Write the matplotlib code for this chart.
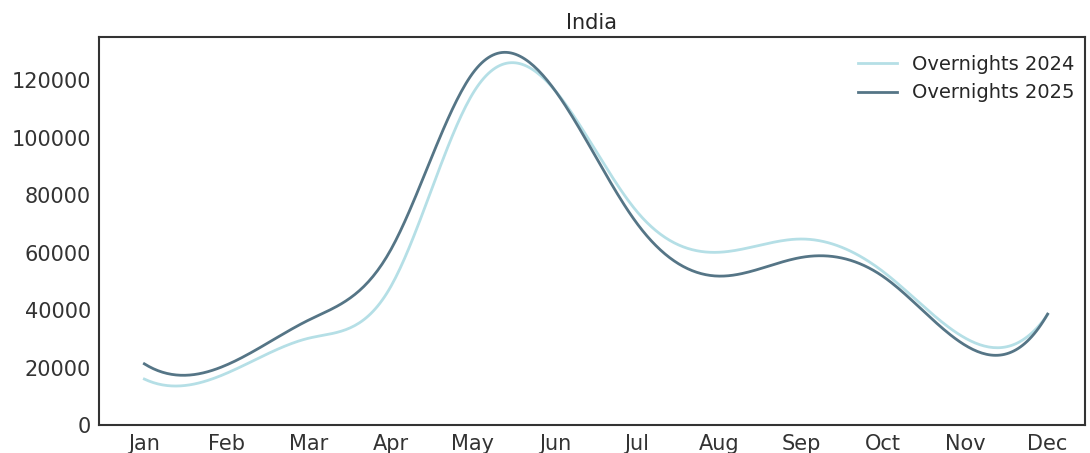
import numpy as np
import matplotlib
matplotlib.use("Agg")
import matplotlib.pyplot as plt

months = ["Jan", "Feb", "Mar", "Apr", "May", "Jun", "Jul", "Aug", "Sep", "Oct", "Nov", "Dec"]
overnights_2024 = [16100, 18100, 30300, 48200, 115400, 116500, 74300, 60200, 64800, 53400, 30300, 38500]
overnights_2025 = [21400, 21000, 36600, 61000, 122500, 116500, 70200, 51900, 58400, 51700, 27800, 38700]


def not_a_knot_spline(x, y, xs):
    x = np.asarray(x, float)
    y = np.asarray(y, float)
    n = len(x)
    h = np.diff(x)
    A = np.zeros((n, n))
    b = np.zeros(n)
    # not-a-knot conditions
    A[0, 0] = h[1]
    A[0, 1] = -(h[0] + h[1])
    A[0, 2] = h[0]
    A[-1, -3] = h[-1]
    A[-1, -2] = -(h[-2] + h[-1])
    A[-1, -1] = h[-2]
    for i in range(1, n - 1):
        A[i, i - 1] = h[i - 1]
        A[i, i] = 2 * (h[i - 1] + h[i])
        A[i, i + 1] = h[i]
        b[i] = 6 * ((y[i + 1] - y[i]) / h[i] - (y[i] - y[i - 1]) / h[i - 1])
    M = np.linalg.solve(A, b)
    idx = np.clip(np.searchsorted(x, xs) - 1, 0, n - 2)
    x0, x1 = x[idx], x[idx + 1]
    hh = x1 - x0
    t0 = x1 - xs
    t1 = xs - x0
    return (M[idx] * t0**3 / (6 * hh) + M[idx + 1] * t1**3 / (6 * hh)
            + (y[idx] / hh - M[idx] * hh / 6) * t0
            + (y[idx + 1] / hh - M[idx + 1] * hh / 6) * t1)


x = np.arange(len(months))
xs = np.linspace(x.min(), x.max(), 400)

fig = plt.figure(figsize=(10.9, 4.53), dpi=100)
ax = fig.add_axes([0.091, 0.061, 0.904, 0.857])

ax.plot(xs, not_a_knot_spline(x, overnights_2024, xs), color="#b5dfe6", lw=2, label="Overnights 2024")
ax.plot(xs, not_a_knot_spline(x, overnights_2025, xs), color="#557586", lw=2, label="Overnights 2025")

ax.set_xticks(x)
ax.set_xticklabels(months)
ax.set_ylim(0, 135000)
ax.set_xlim(-0.55, 11.45)
ax.set_yticks(np.arange(0, 120001, 20000))
ax.tick_params(length=0, labelsize=15, colors="#333333", pad=6)
for s in ax.spines.values():
    s.set_color("#333333")
    s.set_linewidth(1.5)
ax.set_title("India", fontsize=15, color="#262626")
ax.legend(loc="upper right", frameon=False, fontsize=14, labelcolor="#262626",
          bbox_to_anchor=(1.008, 1.0))

fig.savefig("out.png", dpi=100)
